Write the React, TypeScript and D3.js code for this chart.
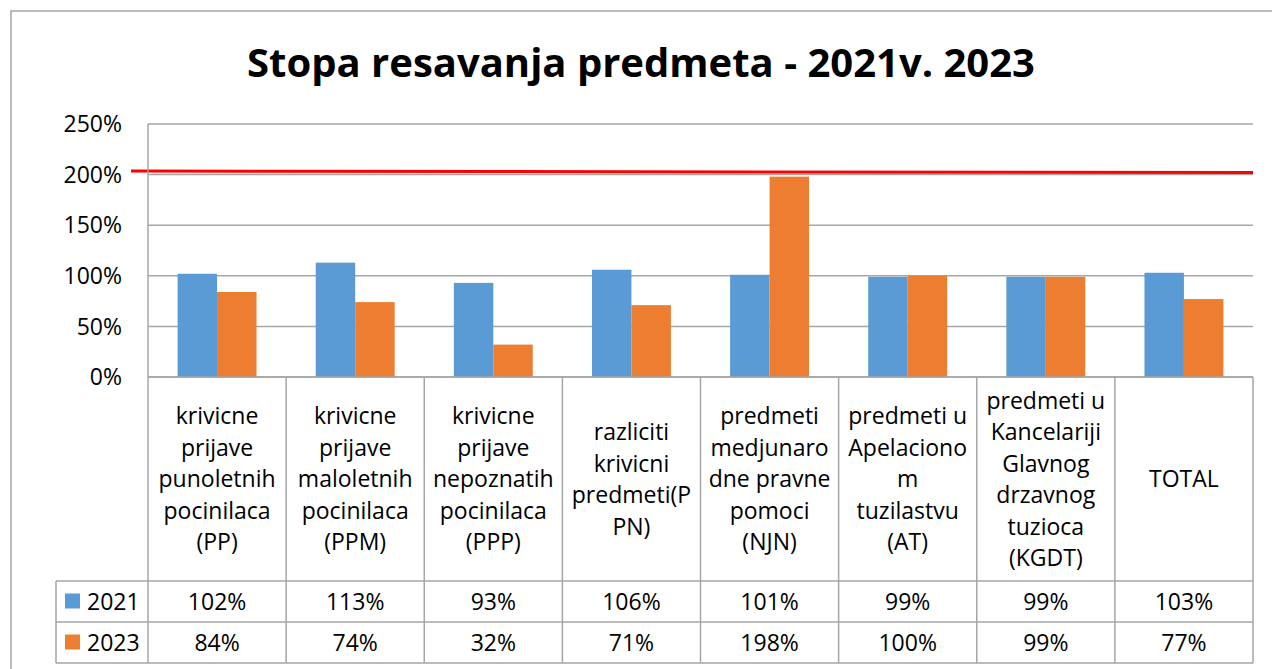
import React from "react";
import * as d3 from "d3";

const categories: string[][] = [
  ["krivicne", "prijave", "punoletnih", "pocinilaca", "(PP)"],
  ["krivicne", "prijave", "maloletnih", "pocinilaca", "(PPM)"],
  ["krivicne", "prijave", "nepoznatih", "pocinilaca", "(PPP)"],
  ["razliciti", "krivicni", "predmeti(P", "PN)"],
  ["predmeti", "medjunaro", "dne pravne", "pomoci", "(NJN)"],
  ["predmeti u", "Apelaciono", "m", "tuzilastvu", "(AT)"],
  ["predmeti u", "Kancelariji", "Glavnog", "drzavnog", "tuzioca", "(KGDT)"],
  ["TOTAL"],
];
const seriesNames = ["2021", "2023"];
const values2021 = [1.02, 1.13, 0.93, 1.06, 1.01, 0.99, 0.99, 1.03];
const values2023 = [0.84, 0.74, 0.32, 0.71, 1.98, 1.0, 0.99, 0.77];
const yTicks = [0, 0.5, 1, 1.5, 2, 2.5];
const targetLine = [2.035, 2.02];
const title = "Stopa resavanja predmeta - 2021v. 2023";

const colors = ["#5B9BD5", "#ED7D31"];
const gridColor = "#A6A6A6";
const font = "'Open Sans', sans-serif";

export default function App() {
  const W = 1272, H = 669;
  const left = 148, right = 1253, top = 124, zeroY = 377;
  const headerBottom = 581, row1Bottom = 622, row2Bottom = 663;
  const legendLeft = 56;
  const titleX = 641;

  const idx = categories.map((_, i) => String(i));
  const x0 = d3.scaleBand().domain(idx).range([left, right]).paddingInner(0).paddingOuter(0);
  const x1 = d3.scaleBand().domain(seriesNames).range([0, x0.bandwidth()]).paddingInner(0).paddingOuter(0.75);
  const y = d3.scaleLinear().domain([0, 2.5]).range([zeroY, top]);
  const fmt = d3.format(".0%");
  const series = [values2021, values2023];

  const headerCenter = (zeroY + headerBottom) / 2;
  const lineH = 31.5;
  const rowsY = [(headerBottom + row1Bottom) / 2, (row1Bottom + row2Bottom) / 2];

  return (
    <svg width={W} height={H} style={{ position: "absolute", left: 0, top: 0, background: "#fff" }} fontFamily={font}>
      {/* outer frame */}
      <rect x={11} y={11} width={W + 10} height={H + 10} fill="#fff" stroke={gridColor} strokeWidth={1.5} />
      <text x={titleX} y={77} textAnchor="middle" fontSize={40} fontWeight="bold" fill="#000">{title}</text>

      {/* gridlines */}
      {yTicks.map((t) => (
        <g key={t}>
          <line x1={left} x2={right} y1={y(t)} y2={y(t)} stroke={gridColor} strokeWidth={1.5} />
          <text x={122} y={y(t)} dy="0.36em" textAnchor="end" fontSize={23} fill="#000">{fmt(t)}</text>
        </g>
      ))}

      {/* bars */}
      {series.map((vals, si) =>
        vals.map((v, ci) => (
          <rect key={`${si}-${ci}`}
            x={(x0(String(ci)) as number) + (x1(seriesNames[si]) as number)}
            y={y(v)} width={x1.bandwidth()} height={zeroY - y(v)}
            fill={colors[si]} />
        ))
      )}

      {/* red target line */}
      <line x1={131} x2={right} y1={y(targetLine[0])} y2={y(targetLine[1])} stroke="#FF0000" strokeWidth={3} />

      {/* axis line */}
      <line x1={left} x2={left} y1={top} y2={row2Bottom} stroke={gridColor} strokeWidth={1.5} />

      {/* table lines */}
      <line x1={left} x2={right} y1={zeroY} y2={zeroY} stroke={gridColor} strokeWidth={1.5} />
      {[headerBottom, row1Bottom, row2Bottom].map((ry) => (
        <line key={ry} x1={legendLeft} x2={right} y1={ry} y2={ry} stroke={gridColor} strokeWidth={1.5} />
      ))}
      <line x1={legendLeft} x2={legendLeft} y1={headerBottom} y2={row2Bottom} stroke={gridColor} strokeWidth={1.5} />
      {idx.map((k) => (
        <line key={k} x1={(x0(k) as number) + x0.bandwidth()} x2={(x0(k) as number) + x0.bandwidth()}
          y1={zeroY} y2={row2Bottom} stroke={gridColor} strokeWidth={1.5} />
      ))}

      {/* category labels */}
      {categories.map((lines, ci) => {
        const cx = (x0(String(ci)) as number) + x0.bandwidth() / 2;
        return (
          <text key={ci} textAnchor="middle" fontSize={23} fill="#000">
            {lines.map((ln, li) => (
              <tspan key={li} x={cx} y={headerCenter + (li - (lines.length - 1) / 2) * lineH} dy="0.36em">{ln}</tspan>
            ))}
          </text>
        );
      })}

      {/* legend rows */}
      {seriesNames.map((s, si) => (
        <g key={s}>
          <rect x={65} y={rowsY[si] - 8} width={15} height={15} fill={colors[si]} />
          <text x={87} y={rowsY[si]} dy="0.36em" fontSize={23} fill="#000">{s}</text>
          {series[si].map((v, ci) => (
            <text key={ci} x={(x0(String(ci)) as number) + x0.bandwidth() / 2} y={rowsY[si]} dy="0.36em"
              textAnchor="middle" fontSize={23} fill="#000">{fmt(v)}</text>
          ))}
        </g>
      ))}
    </svg>
  );
}
